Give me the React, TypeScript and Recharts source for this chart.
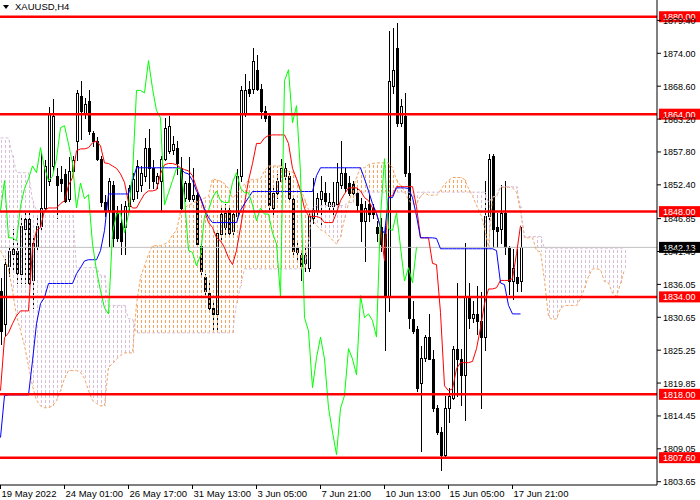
import React from "react";
import { ComposedChart, Bar, Line, XAxis, YAxis, ReferenceLine } from "recharts";

const FONT = '"Liberation Sans", Arial, sans-serif';

// H4 candles, one entry per bar (left partial bar first)
const opens = [
  1835.0, 1829.6, 1839.1, 1841.1, 1841.6, 1837.8, 1845.2, 1846.8, 1836.7, 1842.4,
  1845.7, 1848.6, 1853.1, 1855.5, 1853.9, 1853.4, 1854.2, 1850.1, 1854.7, 1859.6,
  1867.0, 1864.1, 1866.2, 1860.9, 1859.6, 1856.7, 1849.5, 1848.2, 1852.3, 1847.8,
  1846.2, 1845.4, 1848.9, 1850.1, 1851.4, 1852.3, 1853.8, 1858.5, 1855.2, 1852.7,
  1853.1, 1856.7, 1858.0, 1858.2, 1858.5, 1855.2, 1850.3, 1852.7, 1850.1, 1850.8,
  1842.4, 1837.2, 1834.7, 1832.2, 1831.2, 1844.4, 1845.4, 1848.2, 1844.9, 1847.3,
  1853.9, 1864.2, 1868.2, 1868.2, 1871.3, 1868.2, 1864.6, 1863.7, 1848.6, 1851.1,
  1853.1, 1853.9, 1853.8, 1850.1, 1842.1, 1840.8, 1839.6, 1838.8, 1847.0, 1848.2,
  1850.1, 1851.1, 1848.9, 1848.9, 1849.3, 1852.3, 1854.4, 1852.7, 1852.5, 1851.1,
  1849.3, 1846.5, 1849.3, 1848.6, 1845.4, 1845.4, 1844.4, 1834.1, 1868.7, 1874.8,
  1862.6, 1863.7, 1854.4, 1830.4, 1828.8, 1819.9, 1824.0, 1827.4, 1823.8, 1815.8,
  1811.8, 1808.1, 1815.7, 1817.4, 1825.5, 1823.8, 1821.2, 1834.1, 1830.6, 1831.2,
  1830.1, 1827.4, 1847.3, 1857.2, 1845.4, 1845.2, 1847.8, 1842.1, 1836.6, 1837.2,
  1836.6,
];
const highs = [
  1837.1, 1840.3, 1842.4, 1845.2, 1843.2, 1847.3, 1848.2, 1847.8, 1844.0, 1847.3,
  1857.7, 1856.4, 1865.1, 1866.5, 1855.2, 1855.5, 1855.0, 1856.9, 1857.2, 1867.9,
  1869.5, 1866.7, 1867.9, 1861.3, 1860.3, 1857.2, 1850.7, 1853.6, 1853.1, 1848.9,
  1849.3, 1849.8, 1852.3, 1854.4, 1856.4, 1855.5, 1860.1, 1861.6, 1856.4, 1854.4,
  1857.2, 1863.3, 1863.7, 1860.5, 1859.6, 1856.9, 1853.1, 1856.9, 1855.2, 1851.1,
  1842.7, 1837.8, 1836.6, 1833.4, 1844.9, 1848.6, 1849.3, 1848.9, 1848.2, 1855.0,
  1868.7, 1870.6, 1869.5, 1874.9, 1873.8, 1869.0, 1865.4, 1864.2, 1851.9, 1854.2,
  1856.7, 1856.0, 1854.7, 1850.7, 1843.2, 1841.6, 1842.1, 1847.8, 1853.6, 1851.1,
  1853.8, 1852.8, 1851.1, 1852.8, 1856.0, 1859.6, 1855.2, 1853.8, 1853.1, 1851.9,
  1850.3, 1849.8, 1850.7, 1849.3, 1846.5, 1847.0, 1845.7, 1877.6, 1878.1, 1879.0,
  1866.5, 1867.4, 1858.8, 1833.4, 1829.2, 1826.0, 1827.8, 1831.2, 1825.2, 1816.2,
  1812.6, 1817.8, 1819.1, 1826.0, 1836.3, 1825.5, 1842.9, 1836.3, 1833.4, 1835.8,
  1834.8, 1853.1, 1857.5, 1857.5, 1847.8, 1852.3, 1853.1, 1842.4, 1841.9, 1841.9,
  1845.4,
];
const lows = [
  1826.3, 1827.6, 1837.5, 1838.3, 1836.3, 1836.3, 1836.2, 1835.8, 1832.2, 1841.6,
  1844.9, 1848.2, 1852.3, 1854.7, 1847.0, 1851.4, 1849.5, 1849.8, 1854.4, 1856.4,
  1859.9, 1863.3, 1860.8, 1858.8, 1856.4, 1848.9, 1847.3, 1842.4, 1842.4, 1843.2,
  1841.1, 1841.1, 1848.2, 1849.8, 1850.3, 1851.4, 1853.1, 1851.9, 1851.8, 1851.9,
  1848.2, 1856.4, 1857.7, 1857.5, 1854.2, 1848.5, 1849.8, 1849.8, 1849.8, 1842.4,
  1837.8, 1834.5, 1831.7, 1828.4, 1828.4, 1843.2, 1844.4, 1844.4, 1844.0, 1846.5,
  1853.1, 1863.7, 1867.0, 1867.5, 1867.9, 1863.4, 1862.9, 1848.2, 1847.6, 1850.3,
  1852.8, 1853.1, 1849.8, 1841.1, 1839.9, 1836.7, 1838.3, 1838.3, 1846.2, 1847.6,
  1845.4, 1849.3, 1848.2, 1847.6, 1848.9, 1851.9, 1851.4, 1850.8, 1850.8, 1848.2,
  1843.2, 1839.9, 1846.5, 1847.0, 1843.2, 1841.6, 1825.2, 1831.7, 1867.5, 1862.1,
  1862.1, 1853.9, 1828.9, 1828.1, 1818.6, 1808.7, 1823.5, 1823.8, 1815.3, 1811.5,
  1805.6, 1807.8, 1813.5, 1817.3, 1817.8, 1816.2, 1813.8, 1828.9, 1829.8, 1827.9,
  1815.8, 1825.2, 1846.8, 1842.2, 1842.2, 1842.9, 1841.1, 1834.5, 1833.7, 1835.0,
  1835.0,
];
const closes = [
  1828.4, 1839.4, 1841.6, 1841.9, 1838.0, 1845.7, 1846.8, 1836.3, 1842.9, 1845.7,
  1848.6, 1855.5, 1864.2, 1863.7, 1852.3, 1852.7, 1849.8, 1854.7, 1856.4, 1867.4,
  1864.6, 1865.7, 1861.3, 1859.6, 1856.7, 1849.5, 1848.2, 1853.1, 1843.7, 1843.7,
  1843.2, 1848.9, 1851.8, 1853.4, 1855.5, 1854.4, 1858.5, 1855.2, 1853.1, 1853.8,
  1856.7, 1861.8, 1862.1, 1859.1, 1856.0, 1848.6, 1852.7, 1850.1, 1850.8, 1842.7,
  1838.3, 1835.0, 1832.2, 1831.2, 1844.5, 1847.6, 1847.8, 1844.5, 1847.6, 1853.9,
  1867.9, 1867.9, 1867.5, 1872.8, 1868.2, 1864.6, 1863.4, 1849.1, 1851.1, 1853.1,
  1855.1, 1855.1, 1850.3, 1841.6, 1841.3, 1839.1, 1840.8, 1847.3, 1848.2, 1850.3,
  1851.4, 1849.8, 1849.5, 1849.5, 1852.8, 1854.4, 1851.9, 1851.1, 1851.1, 1849.1,
  1846.5, 1848.6, 1847.6, 1847.6, 1844.5, 1842.7, 1834.1, 1869.5, 1871.3, 1862.6,
  1865.4, 1854.4, 1830.6, 1828.4, 1819.1, 1824.0, 1827.4, 1823.8, 1815.8, 1811.8,
  1808.1, 1815.7, 1817.8, 1825.5, 1823.8, 1821.2, 1834.2, 1830.6, 1831.2, 1830.1,
  1827.4, 1847.3, 1856.7, 1845.2, 1844.9, 1847.8, 1842.2, 1836.6, 1838.8, 1836.3,
  1842.13,
];

// Ichimoku lines
const tenkan = [
  1818.6, 1827.3, 1828.1, 1829.6, 1830.9, 1831.7, 1831.7, 1831.7, 1842.1, 1844.9,
  1845.4, 1848.2, 1848.6, 1848.6, 1848.6, 1849.3, 1849.8, 1852.3, 1853.6, 1858.0,
  1858.3, 1858.3, 1858.5, 1859.3, 1859.6, 1858.8, 1856.0, 1855.9, 1855.5, 1855.1,
  1854.2, 1852.8, 1849.5, 1848.6, 1848.6, 1849.8, 1850.9, 1851.4, 1851.4, 1851.6,
  1854.2, 1855.7, 1855.9, 1855.9, 1855.7, 1855.2, 1854.9, 1854.7, 1853.9, 1851.9,
  1850.1, 1848.2, 1846.2, 1845.4, 1843.7, 1843.2, 1842.1, 1840.4, 1839.3, 1841.6,
  1845.4, 1849.3, 1853.1, 1855.9, 1859.2, 1859.2, 1860.1, 1860.5, 1860.6, 1860.6,
  1860.6, 1860.6, 1859.2, 1855.1, 1853.4, 1851.4, 1848.5, 1847.3, 1847.2, 1847.2,
  1847.0, 1846.2, 1846.2, 1846.2, 1847.8, 1849.8, 1850.9, 1851.9, 1851.9, 1851.9,
  1851.4, 1850.3, 1849.8, 1848.6, 1847.7, 1845.4, 1839.9, 1850.5, 1850.6, 1852.1,
  1852.1, 1852.1, 1852.1, 1852.1, 1848.8, 1843.7, 1843.7, 1843.7, 1839.5, 1839.3,
  1831.4, 1819.4, 1818.6, 1818.9, 1822.2, 1823.2, 1823.2, 1823.2, 1823.4, 1825.5,
  1828.9, 1832.9, 1835.3, 1835.3, 1835.5, 1836.7, 1836.7, 1836.7, 1837.0, 1841.1,
  1845.7,
];
const kijun = [
  1810.9, 1817.8, 1817.9, 1817.9, 1817.9, 1817.9, 1817.9, 1817.9, 1823.5, 1829.6,
  1832.9, 1833.9, 1836.2, 1836.2, 1836.2, 1836.2, 1836.2, 1836.2, 1836.2, 1837.8,
  1838.8, 1839.9, 1840.1, 1840.1, 1840.1, 1841.6, 1844.9, 1850.9, 1850.9, 1850.9,
  1850.9, 1850.9, 1850.9, 1853.1, 1855.2, 1855.2, 1855.2, 1855.2, 1855.2, 1855.2,
  1855.2, 1855.2, 1855.2, 1855.2, 1855.2, 1855.1, 1854.4, 1854.2, 1853.1, 1851.4,
  1850.3, 1848.5, 1847.0, 1846.2, 1846.2, 1846.2, 1846.2, 1846.2, 1846.2, 1846.2,
  1848.2, 1849.3, 1850.3, 1851.3, 1851.3, 1851.3, 1851.3, 1851.3, 1851.3, 1851.3,
  1851.3, 1851.3, 1851.3, 1851.3, 1851.3, 1851.3, 1851.3, 1851.3, 1851.3, 1853.9,
  1855.2, 1855.2, 1855.2, 1855.2, 1855.2, 1855.2, 1855.2, 1855.2, 1855.2, 1855.2,
  1855.2, 1853.4, 1851.4, 1849.3, 1847.7, 1845.4, 1844.4, 1850.3, 1850.3, 1851.9,
  1851.9, 1851.9, 1851.8, 1850.3, 1847.3, 1843.7, 1843.7, 1843.7, 1843.7, 1843.6,
  1841.9, 1841.9, 1841.9, 1841.9, 1841.9, 1841.9, 1841.9, 1841.9, 1841.9, 1841.9,
  1841.9, 1841.9, 1841.9, 1841.9, 1841.6, 1836.3, 1836.0, 1832.6, 1831.2, 1831.2,
  1831.2,
];
// Senkou spans, already shifted 26 bars forward
const spanA = [
  1841.6, 1840.3, 1838.6, 1835.0, 1830.9, 1828.5, 1826.0, 1822.7, 1819.4, 1817.0,
  1816.1, 1815.8, 1815.8, 1816.1, 1817.0, 1818.6, 1820.6, 1821.9, 1821.9, 1821.9,
  1821.6, 1820.6, 1818.6, 1817.0, 1816.5, 1816.1, 1816.1, 1822.5, 1823.0, 1823.8,
  1824.4, 1824.8, 1824.8, 1824.8, 1832.8, 1837.2, 1839.1, 1841.0, 1842.4, 1842.4,
  1842.4, 1842.7, 1843.0, 1844.2, 1844.9, 1847.9, 1848.6, 1849.1, 1849.3, 1849.7,
  1849.9, 1850.2, 1850.5, 1853.4, 1853.2, 1853.0, 1852.6, 1851.8, 1850.2, 1850.9,
  1851.9, 1852.5, 1853.1, 1853.3, 1853.3, 1853.4, 1854.7, 1855.5, 1855.5, 1855.5,
  1855.5, 1855.1, 1854.6, 1854.5, 1853.5, 1851.7, 1850.2, 1848.3, 1846.6, 1845.8,
  1845.0, 1844.7, 1844.1, 1843.3, 1842.7, 1843.9, 1846.8, 1849.3, 1851.7, 1853.6,
  1855.2, 1855.2, 1855.7, 1855.9, 1856.0, 1856.0, 1856.0, 1856.0, 1855.2, 1853.2,
  1852.3, 1851.4, 1849.9, 1849.3, 1849.2, 1850.5, 1851.1, 1850.7, 1850.7, 1850.7,
  1851.5, 1852.5, 1853.1, 1853.6, 1853.6, 1853.6, 1853.3, 1851.8, 1850.6, 1849.0,
  1847.7, 1845.4, 1842.2, 1850.4, 1850.5, 1852.0, 1852.0, 1852.0, 1851.9, 1851.2,
  1848.1, 1843.7, 1843.7, 1843.7, 1841.6, 1841.4, 1836.7, 1830.7, 1830.3, 1830.4,
  1832.1, 1832.6, 1832.6, 1832.6, 1832.6, 1833.7, 1835.4, 1837.4, 1838.6, 1838.6,
  1838.5, 1836.5, 1836.3, 1834.6, 1834.1, 1836.2, 1838.5,
];
const spanB = [
  1860.1, 1860.1, 1860.1, 1857.2, 1854.4, 1854.4, 1854.4, 1854.4, 1849.8, 1848.2,
  1848.2, 1848.2, 1848.2, 1848.2, 1848.2, 1848.2, 1848.2, 1848.2, 1848.2, 1838.8,
  1838.8, 1838.8, 1838.8, 1838.8, 1838.8, 1837.5, 1837.5, 1832.6, 1832.6, 1832.6,
  1832.6, 1832.6, 1830.4, 1830.4, 1828.1, 1828.1, 1828.1, 1828.1, 1828.1, 1828.1,
  1828.1, 1828.1, 1828.1, 1828.1, 1828.1, 1828.1, 1828.1, 1828.1, 1828.1, 1828.1,
  1828.1, 1828.1, 1828.1, 1828.1, 1828.1, 1828.1, 1828.1, 1828.1, 1828.1, 1832.9,
  1835.8, 1838.6, 1838.6, 1838.6, 1838.6, 1838.6, 1838.6, 1838.6, 1838.6, 1838.6,
  1838.6, 1838.6, 1838.6, 1838.6, 1838.6, 1838.6, 1838.6, 1843.2, 1848.6, 1849.0,
  1849.0, 1849.0, 1849.0, 1849.0, 1849.0, 1849.0, 1849.0, 1849.5, 1849.5, 1851.2,
  1851.2, 1851.2, 1851.2, 1851.2, 1851.2, 1851.2, 1851.2, 1851.2, 1851.2, 1851.2,
  1851.2, 1851.2, 1851.2, 1851.2, 1851.2, 1851.2, 1851.2, 1851.2, 1851.2, 1851.2,
  1851.2, 1851.2, 1851.2, 1851.2, 1851.2, 1851.2, 1851.2, 1851.2, 1851.2, 1851.2,
  1851.2, 1851.2, 1849.5, 1850.4, 1850.6, 1852.1, 1852.1, 1852.1, 1852.1, 1852.1,
  1848.8, 1843.9, 1843.9, 1843.9, 1843.9, 1843.9, 1842.0, 1842.0, 1842.0, 1842.0,
  1842.0, 1842.0, 1842.0, 1842.0, 1842.0, 1842.0, 1842.0, 1842.0, 1842.0, 1842.0,
  1842.0, 1842.0, 1842.0, 1842.0, 1842.0, 1842.0, 1842.0,
];
const chikouShift = 26;

const timeTicks = [0, 16, 32, 48, 64, 80, 96, 112, 128];
const timeLabels = [
  "19 May 2022", "24 May 01:00", "26 May 17:00", "31 May 13:00", "3 Jun 05:00",
  "7 Jun 21:00", "10 Jun 13:00", "15 Jun 05:00", "17 Jun 21:00",
];
const priceTicks = [
  1879.4, 1874.0, 1868.6, 1863.2, 1857.8, 1852.4, 1846.85, 1841.45, 1836.05,
  1830.65, 1825.25, 1819.85, 1814.45, 1809.05, 1803.65,
];
const levels = [1880.0, 1864.0, 1848.0, 1834.0, 1818.0, 1807.6];
const bidPrice = 1842.13;

const X_DOMAIN: [number, number] = [-0.125, 164.125];
const Y_DOMAIN: [number, number] = [1803.11, 1882.75];

const rows = spanA.map((a, k) => {
  const b = spanB[k];
  const bar = k < closes.length;
  return {
    k,
    range: bar ? [lows[k], highs[k]] : null,
    open: bar ? opens[k] : null,
    close: bar ? closes[k] : null,
    tenkan: bar ? tenkan[k] : null,
    kijun: bar ? kijun[k] : null,
    chikou: k + chikouShift < closes.length ? closes[k + chikouShift] : null,
    spanA: a,
    spanB: b,
    cloud: [Math.min(a, b), Math.max(a, b)],
    up: a >= b,
  };
});

// snap a bar centre onto a pixel column so 1px strokes stay sharp
const snap = (v: number) => Math.floor(v) + 0.5;

function Candle(props: any) {
  const { x, y, width, height, payload } = props;
  if (!payload || !payload.range) return null;
  const [lo, hi] = payload.range;
  const cx = snap(x + width / 2);
  const py = (p: number) => (hi === lo ? y : y + ((hi - p) / (hi - lo)) * height);
  const top = Math.round(py(Math.max(payload.open, payload.close))) + 0.5;
  const bot = Math.round(py(Math.min(payload.open, payload.close))) + 0.5;
  const bull = payload.close >= payload.open;
  return (
    <g shapeRendering="crispEdges">
      <line x1={cx} x2={cx} y1={Math.round(y)} y2={Math.round(y + height) + 1} stroke="#000" strokeWidth={1} />
      {bull ? (
        <rect x={cx - 1} y={top} width={2} height={Math.max(bot - top, 1)} fill="#fff" stroke="#000" strokeWidth={1} />
      ) : (
        <rect x={cx - 1.5} y={top - 0.5} width={3} height={Math.max(bot - top + 1, 1)} fill="#000" />
      )}
    </g>
  );
}

// cloud hatching: one dotted vertical stroke per bar between the two spans
function CloudStroke(props: any) {
  const { x, y, width, height, payload } = props;
  if (!payload || !(height > 0)) return null;
  const cx = Math.floor(x + width / 2) + 0.5;
  return (
    <rect
      x={cx - 0.5}
      y={y}
      width={1}
      height={height}
      fill={payload.up ? "url(#hatchUp)" : "url(#hatchDown)"}
    />
  );
}

function TimeTick(props: any) {
  const { x, y, payload } = props;
  const i = timeTicks.indexOf(payload.value);
  return (
    <text x={x + 1} y={y + 8} fontSize={9.5} fontFamily={FONT} fill="#000" textAnchor="start">
      {timeLabels[i]}
    </text>
  );
}

function PriceTick(props: any) {
  const { x, y, payload } = props;
  return (
    <text x={x} y={y + 3.5} fontSize={9} fontFamily={FONT} fill="#000" textAnchor="start">
      {Number(payload.value).toFixed(2)}
    </text>
  );
}

function PriceTag(props: any) {
  const { viewBox, value, bg } = props;
  if (!viewBox) return null;
  const yy = viewBox.y + (viewBox.height || 0) / 2;
  const xr = viewBox.x + viewBox.width;
  return (
    <g>
      <rect x={xr + 2} y={yy - 5.5} width={41} height={11} fill={bg} />
      <text x={xr + 6} y={yy + 3.5} fontSize={9} fontFamily={FONT} fill="#fff" textAnchor="start">
        {value.toFixed(2)}
      </text>
    </g>
  );
}

export default function App() {
  return (
    <div style={{ position: "relative", width: 700, height: 500, background: "#fff", fontFamily: FONT }}>
      <style>{"body{margin:0}"}</style>
      <svg width={0} height={0} style={{ position: "absolute" }}>
        <defs>
          <pattern id="hatchUp" patternUnits="userSpaceOnUse" width={4} height={5}>
            <rect x={0} y={0} width={4} height={3} fill="#F4A460" />
          </pattern>
          <pattern id="hatchDown" patternUnits="userSpaceOnUse" width={4} height={5}>
            <rect x={0} y={0} width={4} height={3} fill="#D8BFD8" />
          </pattern>
        </defs>
      </svg>
      <ComposedChart width={700} height={500} data={rows} margin={{ top: 0, right: 0, bottom: 0, left: 0 }}>
        <XAxis
          type="number"
          dataKey="k"
          domain={X_DOMAIN}
          allowDataOverflow
          ticks={timeTicks}
          interval={0}
          height={15}
          tickSize={4}
          tickMargin={0}
          stroke="#000"
          tick={<TimeTick />}
        />
        <XAxis xAxisId="cloud" type="number" dataKey="k" domain={X_DOMAIN} allowDataOverflow hide />
        <YAxis
          orientation="right"
          type="number"
          domain={Y_DOMAIN}
          allowDataOverflow
          ticks={priceTicks}
          interval={0}
          width={43}
          tickSize={4}
          tickMargin={2}
          stroke="#000"
          tick={<PriceTick />}
        />
        <ReferenceLine y={bidPrice} stroke="#C0C0C0" strokeWidth={1} />
        <Bar dataKey="range" barSize={3} shape={<Candle />} isAnimationActive={false} />
        <Bar xAxisId="cloud" dataKey="cloud" barSize={1} shape={<CloudStroke />} isAnimationActive={false} />
        <Line dataKey="spanA" stroke="#F4A460" strokeDasharray="3 2" strokeWidth={1} dot={false} activeDot={false} isAnimationActive={false} />
        <Line dataKey="spanB" stroke="#D8BFD8" strokeDasharray="3 2" strokeWidth={1} dot={false} activeDot={false} isAnimationActive={false} />
        <Line dataKey="tenkan" stroke="#FF0000" strokeWidth={1} dot={false} activeDot={false} isAnimationActive={false} />
        <Line dataKey="kijun" stroke="#0000FF" strokeWidth={1} dot={false} activeDot={false} isAnimationActive={false} />
        <Line dataKey="chikou" stroke="#00FF00" strokeWidth={1} dot={false} activeDot={false} isAnimationActive={false} />
        {levels.map((v) => (
          <ReferenceLine key={v} y={v} stroke="#FF0000" strokeWidth={2.5} label={<PriceTag value={v} bg="#FF0000" />} />
        ))}
        <ReferenceLine y={bidPrice} stroke="none" label={<PriceTag value={bidPrice} bg="#000" />} />
      </ComposedChart>
      <div
        style={{
          position: "absolute",
          left: 3,
          top: 1,
          display: "flex",
          alignItems: "center",
          gap: 6,
          fontSize: 9.5,
          color: "#000",
          lineHeight: "12px",
        }}
      >
        <svg width={6} height={4}>
          <polygon points="0,0 6,0 3,4" fill="#000" />
        </svg>
        <span>XAUUSD,H4</span>
      </div>
    </div>
  );
}
